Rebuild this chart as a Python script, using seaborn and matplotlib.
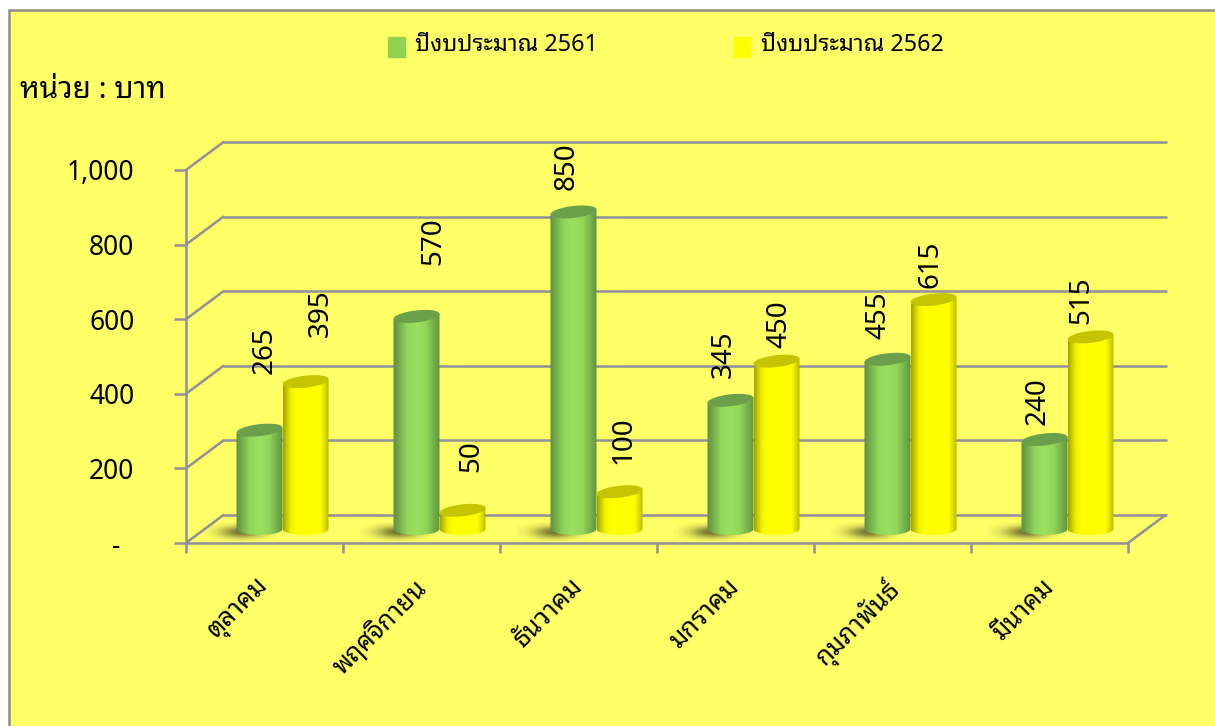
import numpy as np
import pandas as pd
import matplotlib
matplotlib.use("Agg")
import matplotlib.pyplot as plt
from matplotlib.colors import LinearSegmentedColormap, to_rgb
from matplotlib.patches import Patch, Polygon, Rectangle
from matplotlib.transforms import ScaledTranslation
import seaborn as sns

months = ["ตุลาคม", "พฤศจิกายน", "ธันวาคม", "มกราคม", "กุมภาพันธ์", "มีนาคม"]
budget_2561 = [265, 570, 850, 345, 455, 240]
budget_2562 = [395, 50, 100, 450, 615, 515]
year_names = ["ปีงบประมาณ 2561", "ปีงบประมาณ 2562"]
y_ticks = [0, 200, 400, 600, 800, 1000]
y_tick_labels = ["-  ", "200", "400", "600", "800", "1,000"]

sns.set_theme(style="white")
plt.rcParams["font.family"] = ["Noto Sans Thai Looped", "Noto Sans", "DejaVu Sans"]

W, H = 1215, 726
PX_X = 6 / 942   # category units per pixel
PX_Y = 1000 / 373  # value units per pixel

fig = plt.figure(figsize=(W / 100, H / 100), dpi=100, facecolor="white")
fig.add_artist(Rectangle((8.5 / W, -0.1), 1.2, 1.1 - 9.5 / H, transform=fig.transFigure,
                         facecolor="#ffff66", edgecolor="#8c8c8c", linewidth=1.8, zorder=-5))

gray = "#90909a"
ax = fig.add_axes([186 / W, (H - 543) / H, 942 / W, 373 / H])
ax.patch.set_visible(False)
ax.set_xlim(-0.5, 5.5)
ax.set_ylim(0, 1000)
sns.despine(ax=ax, right=True, top=True)
for s in ["left", "bottom"]:
    ax.spines[s].set_color(gray)
    ax.spines[s].set_linewidth(1.8)

# the perspective walls
dx, dy = 37.5 * PX_X, 28 * PX_Y
for v in y_ticks:
    ax.plot([-0.5, -0.5 + dx], [v, v + dy], color=gray, lw=1.8, clip_on=False)
    ax.plot([-0.5 + dx, 5.5 + dx], [v + dy, v + dy], color=gray, lw=1.8, clip_on=False)
ax.plot([5.5, 5.5 + dx], [0, dy], color=gray, lw=1.8, clip_on=False)

ax.set_yticks(y_ticks, labels=y_tick_labels, fontsize=19, color="black")
ax.tick_params(axis="y", which="major", left=True, length=9, width=1.8, color=gray, pad=28)
ax.set_xticks(range(6), labels=months, fontsize=18.5, rotation=45, ha="right",
              rotation_mode="anchor", color="black")
ax.set_xticks(np.arange(-0.5, 6), minor=True)
ax.tick_params(axis="x", which="major", length=0, pad=20)
ax.tick_params(axis="x", which="minor", bottom=True, length=7, width=1.8, color=gray)
for lab in ax.get_xticklabels():
    lab.set_transform(lab.get_transform() + ScaledTranslation(-8 / 100, -3 / 100, fig.dpi_scale_trans))

# bars sit further back on the floor
EXTRA = 60
bar_ax = fig.add_axes([(186 + 18) / W, (H - 529 - EXTRA * 373 / 1000) / H, 942 / W,
                       (373 + EXTRA * 373 / 1000) / H])
df = pd.DataFrame({
    "month": months * 2,
    "value": budget_2561 + budget_2562,
    "year": [year_names[0]] * 6 + [year_names[1]] * 6,
})
sns.barplot(data=df, x="month", y="value", hue="year", order=months, hue_order=year_names,
            palette=["#92d050", "#ffff00"], width=0.586, gap=0, legend=False, saturation=1, ax=bar_ax)
bar_ax.set_xlim(-0.5, 5.5)
bar_ax.set_ylim(-EXTRA, 1000)
bar_ax.set_axis_off()

side_cmaps = [
    LinearSegmentedColormap.from_list("g", [(0, "#5f8f42"), (0.3, "#92d65a"), (0.5, "#9be060"),
                                             (0.7, "#92d65a"), (1, "#5f9440")]),
    LinearSegmentedColormap.from_list("y", [(0, "#a3a300"), (0.16, "#f0f000"), (0.28, "#ffff00"),
                                             (0.8, "#ffff00"), (0.93, "#d0d000"), (1, "#a8a800")]),
]
top_colors = ["#6ba04a", "#c4c400"]
t = np.linspace(0, np.pi, 40)
strip = np.linspace(0, 1, 128).reshape(1, -1)

# soft floor shadows left of each pair
yy, xx = np.mgrid[-1:1:60j, -1:1:120j]
shadow_rgba = np.zeros((60, 120, 4))
shadow_rgba[..., :3] = to_rgb("#64632a")
shadow_rgba[..., 3] = 0.9 * np.exp(-((xx / 0.55) ** 2 + (yy / 0.6) ** 2))
for bar in bar_ax.containers[0]:
    left = bar.get_x()
    bar_ax.imshow(shadow_rgba, extent=[left - 34 * PX_X, left + 44 * PX_X, -13 * PX_Y, 7 * PX_Y],
                  aspect="auto", zorder=1, interpolation="bilinear")

rx_tilt = 2.5 * PX_Y
for i, cont in enumerate(bar_ax.containers):
    for j, bar in enumerate(cont):
        bar.set_visible(False)
        x0, w, v = bar.get_x(), bar.get_width(), bar.get_height()
        cx, rx = x0 + w / 2, w / 2
        z = 3 + 2 * j + i * 0.5
        # body: round base, top edge follows the tilted lid
        low_x = cx + rx * np.cos(t[::-1] + np.pi)
        low_y = -6 * PX_Y * np.sin(t)
        body = np.column_stack([np.r_[low_x, x0, x0 + w], np.r_[low_y, v - rx_tilt, v + rx_tilt]])
        poly = Polygon(body, closed=True, transform=bar_ax.transData, fc="none", ec="none")
        bar_ax.add_patch(poly)
        im = bar_ax.imshow(strip, cmap=side_cmaps[i], extent=[x0, x0 + w, -8 * PX_Y, v + 10 * PX_Y],
                           aspect="auto", zorder=z, interpolation="bilinear")
        im.set_clip_path(poly)
        # lid
        a = np.linspace(0, 2 * np.pi, 60)
        lid = np.column_stack([cx + rx * np.cos(a),
                               v + 6 * PX_Y * np.sin(a) + rx_tilt * np.cos(a)])
        bar_ax.add_patch(Polygon(lid, closed=True, fc=top_colors[i], ec="none", zorder=z + 0.1))

bar_ax.set_xlim(-0.5, 5.5)
bar_ax.set_ylim(-EXTRA, 1000)

# value labels are hand placed in the original
label_offsets = [
    [(5, 80), (17, 75), (-7, 46), (-7, 46), (-9, 44), (-7, 38)],
    [(15, 69), (9, 54), (4, 52), (3, 37), (-3, 35), (-9, 37)],
]
for i, cont in enumerate(bar_ax.containers):
    for j, bar in enumerate(cont):
        bar_ax.annotate(str(int(bar.get_height())),
                        (bar.get_x() + bar.get_width() / 2, bar.get_height()),
                        xytext=label_offsets[i][j], textcoords="offset pixels",
                        rotation=90, ha="center", va="center", fontsize=20, color="black",
                        annotation_clip=False, zorder=50)

fig.text(20 / W, (H - 90) / H, "หน่วย : บาท", fontsize=21.5, fontweight="bold", va="center", color="black")

handles = [Patch(color="#92d050", label=year_names[0]), Patch(color="#ffff00", label=year_names[1])]
leg = fig.legend(handles=handles, ncol=2, frameon=False, loc="center left",
                 bbox_to_anchor=(367 / W, (H - 45) / H), fontsize=16.8, labelcolor="black",
                 handlelength=0.72, handleheight=0.9, handletextpad=0.45, columnspacing=5.8)
for p in leg.get_patches():
    p.set_y(p.get_y() - 3)

fig.savefig("out.png", dpi=100, facecolor=fig.get_facecolor())
